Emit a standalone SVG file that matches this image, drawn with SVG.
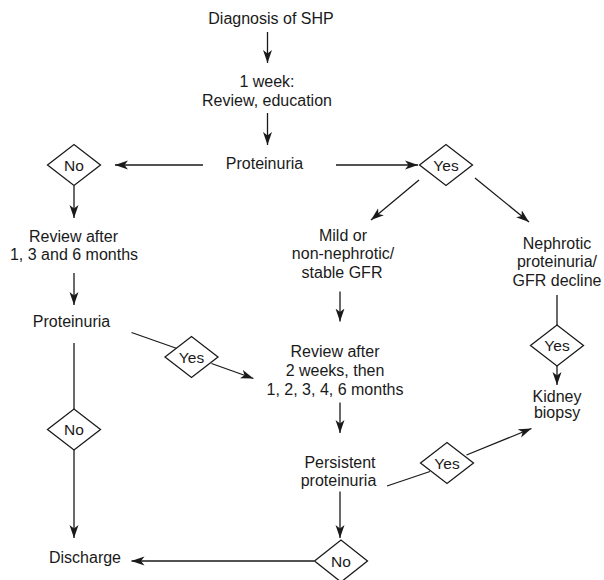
<svg xmlns="http://www.w3.org/2000/svg" width="604" height="580" viewBox="0 0 604 580">
<style>
.t{font-family:"Liberation Sans",Arial,Helvetica,sans-serif;font-size:16px;fill:#1a1a1a;text-anchor:middle}
.d{font-family:"Liberation Sans",Arial,Helvetica,sans-serif;font-size:15.5px;fill:#1a1a1a;text-anchor:middle}
.c{stroke:#1a1a1a;stroke-width:1.3;fill:none}
.a{marker-end:url(#ah)}
.dm{stroke:#1a1a1a;stroke-width:1.3;fill:#fff}
</style>
<defs>
<marker id="ah" markerUnits="userSpaceOnUse" markerWidth="13" markerHeight="10" refX="13" refY="5" orient="auto">
<path d="M0,0.5 L13,5 L0,9.5 L3.5,5 z" fill="#1a1a1a"/>
</marker>
</defs>
<rect width="604" height="580" fill="#fff"/>
<g id="connectors">
<line class="c a" x1="267.5" y1="32" x2="267.5" y2="63"/>
<line class="c a" x1="267.5" y1="113" x2="267.5" y2="145"/>
<line class="c a" x1="203" y1="165" x2="115" y2="165"/>
<line class="c a" x1="336" y1="165" x2="418" y2="165"/>
<line class="c a" x1="419" y1="180" x2="371" y2="220"/>
<line class="c a" x1="475" y1="178" x2="529" y2="222"/>
<line class="c a" x1="74" y1="185.5" x2="74" y2="218"/>
<line class="c a" x1="74" y1="273" x2="74" y2="305"/>
<line class="c" x1="131.5" y1="332.5" x2="177" y2="348.5"/>
<line class="c a" x1="211.5" y1="363.5" x2="253.5" y2="378.5"/>
<line class="c" x1="74" y1="343" x2="74" y2="409"/>
<line class="c a" x1="74" y1="450" x2="74" y2="538"/>
<line class="c a" x1="340" y1="291.5" x2="340" y2="321.5"/>
<line class="c a" x1="340" y1="402.5" x2="340" y2="433"/>
<line class="c a" x1="340" y1="491.5" x2="340" y2="538"/>
<line class="c a" x1="314" y1="561" x2="131.5" y2="561"/>
<line class="c" x1="387" y1="486" x2="430" y2="471.5"/>
<line class="c a" x1="466.5" y1="455" x2="531.5" y2="428.5"/>
<line class="c" x1="557" y1="295" x2="557" y2="325"/>
<line class="c a" x1="557" y1="366" x2="557" y2="385"/>
</g>
<g id="n-diagnosis"><text class="t" x="271" y="24">Diagnosis of SHP</text></g>
<g id="n-week"><text class="t" x="267" y="87">1 week:</text><text class="t" x="267" y="105.5">Review, education</text></g>
<g id="n-prot1"><text class="t" x="264.5" y="168.5">Proteinuria</text></g>
<g id="n-no1"><polygon class="dm" points="47.5,165 74,144.5 100.5,165 74,185.5"/><text class="d" x="74" y="170.5">No</text></g>
<g id="n-yes1"><polygon class="dm" points="419.5,165 446,144.5 472.5,165 446,185.5"/><text class="d" x="446" y="170.5">Yes</text></g>
<g id="n-review1"><text class="t" x="73.5" y="241.5">Review after</text><text class="t" x="74" y="260">1, 3 and 6 months</text></g>
<g id="n-prot2"><text class="t" x="71.5" y="327">Proteinuria</text></g>
<g id="n-yes2"><polygon class="dm" points="165,357 191.5,336.5 218,357 191.5,377.5"/><text class="d" x="191.5" y="362.5">Yes</text></g>
<g id="n-no2"><polygon class="dm" points="47.5,429.5 74,409 100.5,429.5 74,450"/><text class="d" x="74" y="435">No</text></g>
<g id="n-discharge"><text class="t" x="85" y="563">Discharge</text></g>
<g id="n-mild"><text class="t" x="343" y="240.5">Mild or</text><text class="t" x="343" y="259">non-nephrotic/</text><text class="t" x="342" y="277.5">stable GFR</text></g>
<g id="n-review2"><text class="t" x="335" y="356.5">Review after</text><text class="t" x="335" y="376">2 weeks, then</text><text class="t" x="335" y="394.5">1, 2, 3, 4, 6 months</text></g>
<g id="n-persist"><text class="t" x="340" y="468">Persistent</text><text class="t" x="338.5" y="485.5">proteinuria</text></g>
<g id="n-yes4"><polygon class="dm" points="420.5,463 447,442.5 473.5,463 447,483.5"/><text class="d" x="447" y="468.5">Yes</text></g>
<g id="n-no3"><polygon class="dm" points="314.5,561 341,540 367.5,561 341,582"/><text class="d" x="341" y="566.5">No</text></g>
<g id="n-nephrotic"><text class="t" x="557" y="248.5">Nephrotic</text><text class="t" x="557" y="267">proteinuria/</text><text class="t" x="557" y="286">GFR decline</text></g>
<g id="n-yes3"><polygon class="dm" points="530.5,345.5 557,325 583.5,345.5 557,366"/><text class="d" x="557" y="351">Yes</text></g>
<g id="n-biopsy"><text class="t" x="557" y="401.5">Kidney</text><text class="t" x="557" y="418">biopsy</text></g>
</svg>
